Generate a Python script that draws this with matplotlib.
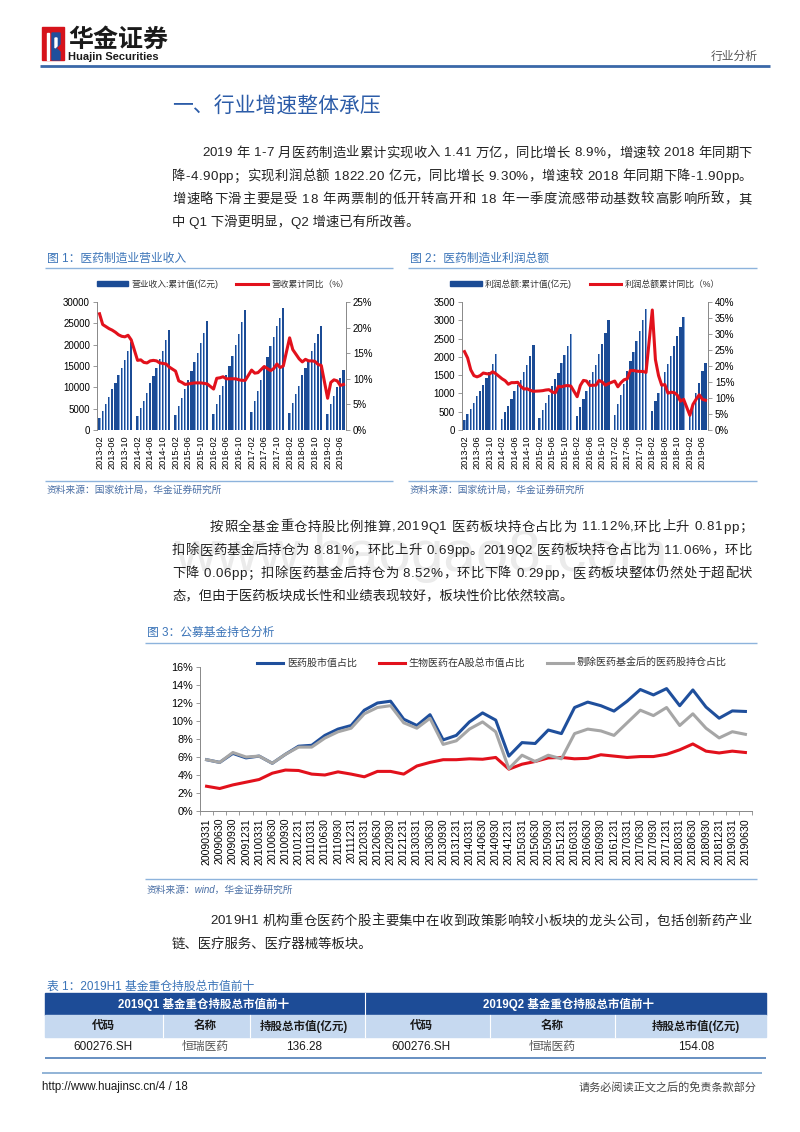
import numpy as np
import pandas as pd
import matplotlib
matplotlib.use('Agg')
import matplotlib.pyplot as plt
from matplotlib.patches import Rectangle, Patch, Polygon
from matplotlib.lines import Line2D

plt.rcParams['font.family'] = ['Liberation Sans', 'Noto Sans CJK SC']
plt.rcParams['axes.unicode_minus'] = False

# ---- data: monthly cumulative values, Feb..Dec each year (Jan is merged into Feb), 2019 Feb..Jul
revenue = [2800, 4500, 6000, 7700, 9500, 11100, 12800, 14600, 16400, 18400, 20700,
           3200, 5100, 6900, 8700, 10900, 12600, 14500, 16600, 18600, 21000, 23400,
           3500, 5600, 7500, 9500, 11800, 13800, 15900, 18100, 20500, 22800, 25600,
           3800, 6100, 8200, 10400, 13000, 15100, 17400, 20000, 22400, 25200, 28100,
           4200, 6800, 9200, 11700, 14600, 17000, 19700, 21900, 24400, 26200, 28500,
           4100, 6300, 8400, 10400, 12800, 14600, 16400, 18400, 20400, 22500, 24300,
           3800, 6000, 8000, 10000, 12200, 14100]
revenue_yoy = [22.7, 20.6, 20.2, 19.8, 19.5, 19.1, 18.6, 18.3, 18.2, 18.5, 17.6,
               13.6, 13.7, 13.2, 13.1, 13.5, 13.6, 13.5, 13.1, 13.0, 12.9, 12.3,
               11.5, 9.6, 9.3, 8.9, 9.0, 9.1, 9.2, 9.2, 9.2, 9.1, 9.0,
               8.0, 10.1, 10.2, 10.4, 10.0, 10.0, 10.0, 10.0, 9.8, 9.7, 9.7,
               11.7, 11.1, 11.2, 11.8, 12.4, 12.0, 11.6, 12.0, 12.9, 12.2, 12.5,
               18.0, 15.7, 14.8, 13.9, 13.3, 13.8, 13.5, 13.5, 13.4, 12.8, 12.6,
               6.2, 9.3, 9.8, 9.6, 8.7, 8.9]
profit = [270, 440, 580, 740, 920, 1070, 1220, 1420, 1590, 1800, 2080,
          300, 500, 660, 840, 1060, 1220, 1380, 1580, 1780, 2020, 2330,
          340, 560, 740, 950, 1190, 1390, 1570, 1820, 2040, 2300, 2630,
          380, 640, 860, 1080, 1380, 1580, 1790, 2080, 2360, 2650, 3000,
          420, 720, 970, 1250, 1600, 1880, 2130, 2420, 2710, 3000, 3320,
          520, 780, 1000, 1260, 1580, 1800, 2010, 2300, 2560, 2820, 3090,
          470, 740, 1000, 1280, 1610, 1820]
profit_yoy = [24.5, 22.5, 18.8, 17.0, 16.6, 17.0, 17.8, 17.6, 17.5, 18.2, 17.6,
              16.0, 15.4, 14.3, 14.8, 14.8, 14.9, 13.6, 12.8, 12.9, 12.4, 12.1,
              12.2, 12.3, 12.5, 12.6, 11.9, 11.6, 13.6, 13.5, 13.8, 13.9, 13.7,
              10.4, 13.9, 15.5, 15.3, 13.9, 14.0, 14.0, 15.5, 15.0, 14.0, 14.5,
              15.3, 13.5, 14.8, 15.7, 16.0, 18.6, 18.6, 18.4, 18.3, 18.3, 18.0,
              37.5, 22.0, 17.0, 14.0, 14.2, 11.5, 11.8, 11.7, 10.9, 9.0, 9.6,
              4.6, 8.0, 9.6, 11.0, 9.6, 9.3]

# ---- data: quarterly fund holdings (%)
pharma_share = [5.7, 5.4, 6.4, 5.9, 6.1, 5.3, 6.3, 7.2, 7.3, 8.4, 9.1, 9.5, 11.2, 12.0,
                12.2, 10.2, 9.5, 10.7, 7.9, 8.4, 9.9, 10.9, 10.1, 6.1, 7.6, 7.5, 9.0, 8.6,
                11.5, 12.1, 11.7, 11.1, 12.2, 13.5, 12.9, 13.6, 11.7, 13.45, 11.55, 10.31,
                11.12, 11.06]
bio_mkt_share = [2.75, 2.5, 2.9, 3.2, 3.5, 4.2, 4.55, 4.5, 4.1, 4.0, 4.35, 4.1, 3.8, 4.4,
                 4.4, 4.1, 5.0, 5.4, 5.7, 5.7, 5.8, 5.75, 5.95, 4.65, 5.2, 5.5, 5.9, 5.95,
                 5.8, 5.85, 6.25, 6.1, 5.95, 6.05, 6.05, 6.3, 6.8, 7.45, 6.65, 6.45, 6.65, 6.5]
ex_fund_share = [5.7, 5.4, 6.5, 6.0, 6.1, 5.3, 6.3, 7.1, 7.1, 8.1, 8.8, 9.2, 10.8, 11.5,
                 11.7, 9.8, 9.2, 10.3, 7.4, 7.8, 9.1, 9.9, 8.8, 4.7, 6.2, 5.5, 6.2, 5.8,
                 8.6, 9.1, 8.9, 8.4, 9.8, 11.2, 10.6, 11.5, 9.5, 10.8, 9.2, 8.12, 8.81, 8.52]
quarters = pd.date_range('2009-03-31', periods=42, freq='QE').strftime('%Y%m%d')

# ---- table
tbl_q1 = ['600276.SH', '恒瑞医药', '136.28']
tbl_q2 = ['600276.SH', '恒瑞医药', '154.08']

months_all = pd.period_range('2013-02', '2019-07', freq='M')
xpos = np.array([i for i, p in enumerate(months_all) if p.month != 1])
month_ticks = list(range(0, len(months_all), 4))
month_labels = [months_all[i].strftime('%Y-%m') for i in month_ticks]

BLUE = '#1b4b95'
LIGHT = '#7fa5da'
RED = '#e2111c'
GRAY = '#a6a6a6'
CAP = '#3b74b8'
RULE = '#8db3dc'

W, H = 800, 1132
fig = plt.figure(figsize=(W / 100, H / 100), dpi=100)
page = fig.add_axes([0, 0, 1, 1])
page.set_xlim(0, W)
page.set_ylim(H, 0)
page.axis('off')
renderer = fig.canvas.get_renderer()


def axes_px(l, t, r, b):
    return fig.add_axes([l / W, 1 - b / H, (r - l) / W, (b - t) / H])


def text_width(s, size):
    t = page.text(0, 0, s, fontsize=size)
    w = t.get_window_extent(renderer).width
    t.remove()
    return w


def body_line(s, x0, y, x1=None, size=9.6, color='#222222'):
    # y is the text centre; draw on baseline so CJK and latin line up
    yb = y + 4.5
    if x1 is None:
        page.text(x0, yb, s, fontsize=size, color=color, va='baseline')
        return
    bar = text_width('|', size)
    pos = [text_width(s[:i] + '|', size) - bar for i in range(len(s))]
    extra = (x1 - x0) - text_width(s, size)
    n = len(s) - 1
    for i, ch in enumerate(s):
        if ch == ' ':
            continue
        page.text(x0 + pos[i] + extra * i / n, yb, ch, fontsize=size, color=color,
                  va='baseline')


def hline(y, x0, x1, color=RULE, lw=1.0):
    page.plot([x0, x1], [y, y], color=color, lw=lw, solid_capstyle='butt')


# ---- header
page.add_patch(Rectangle((42, 27), 22, 33, color='#d6131b'))
page.add_patch(Rectangle((46.5, 33), 2.5, 27, color='white'))
page.add_patch(Polygon([(52, 33), (60, 33), (60, 44), (56, 48), (60, 52), (60, 60), (52, 60)],
                       color='#1f4f9c'))
page.add_patch(Polygon([(55, 38), (57, 38), (57, 46), (55, 48)], color='white'))
page.text(68, 40, '华金证券', fontsize=18, fontweight='bold', color='#1a1a1a', va='center')
page.text(68, 56.5, 'Huajin Securities', fontsize=8, fontweight='bold', color='#1a1a1a',
          va='center')
page.text(758, 57, '行业分析', fontsize=8.5, color='#555555', ha='right', va='center')
hline(65.5, 40, 770, color='#3a68a8', lw=2.0)

page.text(172, 107, '一、行业增速整体承压', fontsize=15, color='#2c5ca8', va='center',
          fontweight='light')

# watermark
page.text(174, 556, 'www.baogao8.com', fontsize=42, color='#ebebeb', va='center', zorder=0)

para1 = ['2019 年 1-7 月医药制造业累计实现收入 1.41 万亿，同比增长 8.9%，增速较 2018 年同期下',
         '降-4.90pp；实现利润总额 1822.20 亿元，同比增长 9.30%，增速较 2018 年同期下降-1.90pp。',
         '增速略下滑主要是受 18 年两票制的低开转高开和 18 年一季度流感带动基数较高影响所致，其',
         '中 Q1 下滑更明显，Q2 增速已有所改善。']
para2 = ['按照全基金重仓持股比例推算,2019Q1 医药板块持仓占比为 11.12%,环比上升 0.81pp；',
         '扣除医药基金后持仓为 8.81%，环比上升 0.69pp。2019Q2 医药板块持仓占比为 11.06%，环比',
         '下降 0.06pp；扣除医药基金后持仓为 8.52%，环比下降 0.29pp，医药板块整体仍然处于超配状',
         '态，但由于医药板块成长性和业绩表现较好，板块性价比依然较高。']
para3 = ['2019H1 机构重仓医药个股主要集中在收到政策影响较小板块的龙头公司，包括创新药产业',
         '链、医疗服务、医疗器械等板块。']


def paragraph(lines, y0, indent_x):
    for k, s in enumerate(lines):
        x0 = indent_x if k == 0 else 172
        x1 = 752 if k < len(lines) - 1 else None
        body_line(s, x0, y0 + k * 23.2, x1)


paragraph(para1, 152, 202)
paragraph(para2, 526, 210)
paragraph(para3, 920, 210)

# ---- captions and source lines
page.text(47, 259, '图 1：医药制造业营业收入', fontsize=8.5, color=CAP, va='center')
page.text(410, 259, '图 2：医药制造业利润总额', fontsize=8.5, color=CAP, va='center')
hline(268, 45, 393)
hline(268, 408, 757)
hline(481, 45, 393)
hline(481, 408, 757)
page.text(47, 490, '资料来源：国家统计局，华金证券研究所', fontsize=7, color='#4a6fa5',
          va='center', style='italic')
page.text(410, 490, '资料来源：国家统计局，华金证券研究所', fontsize=7, color='#4a6fa5',
          va='center', style='italic')

page.text(147, 633, '图 3：公募基金持仓分析', fontsize=8.5, color=CAP, va='center')
hline(643, 145, 757)
hline(879, 145, 757)
page.text(147, 890, '资料来源：wind，华金证券研究所', fontsize=7, color='#4a6fa5',
          va='center', style='italic')


# ---- bar + line charts
def bar_chart(box, bars, yoy, ymax, ystep, pmax, bar_label, line_label, legend_x):
    ax = axes_px(*box)
    ax.bar(xpos, bars, width=0.74, color=BLUE, zorder=2)
    ax.bar(xpos + 0.22, bars, width=0.2, color=LIGHT, zorder=3)
    ax.set_xlim(-0.8, len(months_all) - 0.2)
    ax.set_ylim(0, ymax)
    ax.set_yticks(np.arange(0, ymax + 1, ystep))
    ax.set_xticks(month_ticks)
    ax.set_xticklabels(month_labels, rotation=90, fontsize=6.6)
    ax.tick_params(axis='x', length=0, pad=4)
    ax.tick_params(axis='y', labelsize=7, length=3, width=0.6, color='#888888', pad=2)
    for s in ['top', 'right', 'bottom']:
        ax.spines[s].set_visible(False)
    ax.spines['left'].set_color('#888888')
    ax.spines['left'].set_linewidth(0.7)
    axr = ax.twinx()
    axr.plot(xpos, yoy, color=RED, lw=2.2, zorder=4)
    axr.set_ylim(0, pmax)
    axr.set_yticks(np.arange(0, pmax + 1, 5))
    axr.set_yticklabels([f'{v}%' for v in range(0, pmax + 1, 5)])
    axr.tick_params(axis='y', labelsize=7, length=3, width=0.6, color='#888888', pad=2)
    for s in ['top', 'left', 'bottom']:
        axr.spines[s].set_visible(False)
    axr.spines['right'].set_color('#888888')
    axr.spines['right'].set_linewidth(0.7)
    handles = [Patch(color=BLUE), Line2D([], [], color=RED, lw=2.2)]
    fig.legend(handles, [bar_label, line_label], loc='center',
               bbox_to_anchor=(legend_x / W, 1 - 284 / H), ncol=2, frameon=False,
               fontsize=6.3, handlelength=3.6, handleheight=0.55, handletextpad=0.4,
               columnspacing=2.0, labelcolor='#333333')


bar_chart((97, 302, 346, 430), revenue, revenue_yoy, 30000, 5000, 25,
          '营业收入:累计值(亿元)', '营收累计同比（%）', 223)
bar_chart((462, 302, 708, 430), profit, profit_yoy, 3500, 500, 40,
          '利润总额:累计值(亿元)', '利润总额累计同比（%）', 585)

# ---- fund holdings chart
ax3 = axes_px(200, 667, 752, 811)
qx = np.arange(len(quarters))
ax3.plot(qx, pharma_share, color='#1f4f9c', lw=2.2, label='医药股市值占比')
ax3.plot(qx, bio_mkt_share, color=RED, lw=2.2, label='生物医药在A股总市值占比')
ax3.plot(qx, ex_fund_share, color=GRAY, lw=2.2, label='剔除医药基金后的医药股持仓占比')
ax3.set_xlim(-0.5, len(quarters) - 0.5)
ax3.set_ylim(0, 16)
ax3.set_yticks(range(0, 17, 2))
ax3.set_yticklabels([f'{v}%' for v in range(0, 17, 2)])
ax3.set_xticks(qx)
ax3.set_xticklabels(quarters, rotation=90, fontsize=7.6)
ax3.set_xticks(np.arange(-0.5, len(quarters), 1), minor=True)
ax3.tick_params(axis='x', which='major', length=0, pad=5)
ax3.tick_params(axis='x', which='minor', length=3, width=0.6, color='#888888')
ax3.tick_params(axis='y', labelsize=7.8, length=3, width=0.6, color='#888888', pad=2)
for s in ['top', 'right']:
    ax3.spines[s].set_visible(False)
for s in ['left', 'bottom']:
    ax3.spines[s].set_color('#888888')
    ax3.spines[s].set_linewidth(0.7)
ax3.legend(loc='center', bbox_to_anchor=(492 / W, 1 - 663 / H), bbox_transform=fig.transFigure,
           ncol=3, frameon=False, fontsize=7.2, handlelength=2.6, handletextpad=0.35,
           columnspacing=2.2, labelcolor='#333333')

# ---- table
page.text(47, 987, '表 1：2019H1 基金重仓持股总市值前十', fontsize=8.5, color=CAP, va='center')
page.add_patch(Rectangle((45, 993), 721, 22, color='#1d4c97'))
page.add_patch(Rectangle((45, 1015), 721, 22, color='#c6d9f0'))
page.plot([365, 365], [993, 1015], color='white', lw=0.8)
for xd in [163, 250, 365, 490, 615]:
    page.plot([xd, xd], [1015, 1037], color='white', lw=0.8)
hline(1057.5, 45, 766, color='#5a87bd', lw=1.3)
page.text(203, 1004, '2019Q1 基金重仓持股总市值前十', fontsize=8.3, fontweight='bold',
          color='white', ha='center', va='center')
page.text(568, 1004, '2019Q2 基金重仓持股总市值前十', fontsize=8.3, fontweight='bold',
          color='white', ha='center', va='center')
col_x = [103, 205, 304, 421, 552, 696]
heads = ['代码', '名称', '持股总市值(亿元)'] * 2
for cx, h in zip(col_x, heads):
    page.text(cx, 1026, h, fontsize=8.3, fontweight='bold', color='#1a1a1a',
              ha='center', va='center')
for cx, v in zip(col_x, tbl_q1 + tbl_q2):
    c = '#555555' if v == '恒瑞医药' else '#1a1a1a'
    page.text(cx, 1047, v, fontsize=8.5, color=c, ha='center', va='center')

# ---- footer
hline(1073, 42, 762, color='#7fa7cf', lw=1.2)
page.text(42, 1087, 'http://www.huajinsc.cn/4 / 18', fontsize=8.3, color='#1a1a1a', va='center')
page.text(757, 1087, '请务必阅读正文之后的免责条款部分', fontsize=8, color='#444444',
          ha='right', va='center')

fig.savefig('out.png', dpi=100)
